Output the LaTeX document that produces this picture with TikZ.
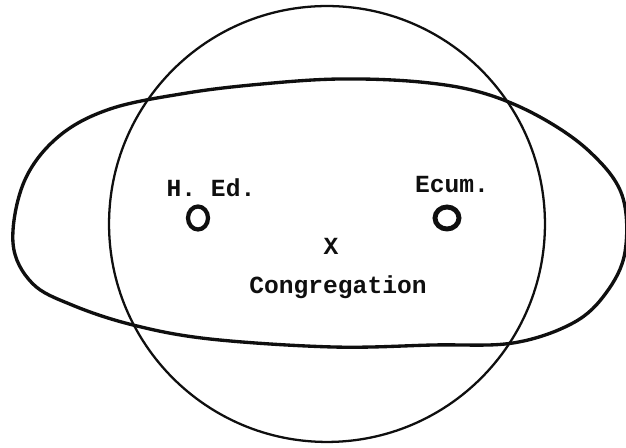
\documentclass[tikz,border=0pt]{standalone}
\usepackage{fontspec}
\setmonofont{Liberation Mono}
\usepackage{tikz}
\usetikzlibrary{shapes.geometric}
\definecolor{ink}{RGB}{15,15,15}
\tikzset{
  outline/.style={draw=ink, line width=1.3pt},
  bigloop/.style={draw=ink, line width=1.9pt, line join=round},
  tlabel/.style={font=\ttfamily\bfseries\fontsize{14}{16}\selectfont, text=ink, inner sep=0pt},
  ring/.style={ellipse, draw=ink, line width=2.4pt, inner sep=0pt}
}

\begin{document}
\begin{tikzpicture}[x=0.02cm, y=-0.02cm]
  \useasboundingbox (0,0) rectangle (626,448);

  % Circle
  \draw[outline] (327,224) circle [radius=4.36cm];

  % Long loop
  \draw[bigloop] plot[smooth cycle, tension=0.6] coordinates {
    (13,243) (24,182) (58,137) (110,109) (187,93) (262,84)
    (340,79) (420,82) (483,93) (540,117) (590,152)
    (622,195) (625,252) (606,293) (573,323) (513,343) (433,345)
    (333,347) (210,339) (133,325) (72,305) (32,283)};

  % Labels
  \node[tlabel] (hed) at (211,188) {H. Ed.};
  \node[tlabel] (ecum) at (452,185) {Ecum.};
  \node[tlabel] (xmark) at (331,246) {X};
  \node[tlabel] (congr) at (338,287) {Congregation};

  % Rings
  \node[ring, minimum width=0.4cm, minimum height=0.46cm] (hedring) at (198,218) {};
  \node[ring, line width=2.8pt, minimum width=0.48cm, minimum height=0.44cm] (ecumring) at (447,218) {};
\end{tikzpicture}
\end{document}
